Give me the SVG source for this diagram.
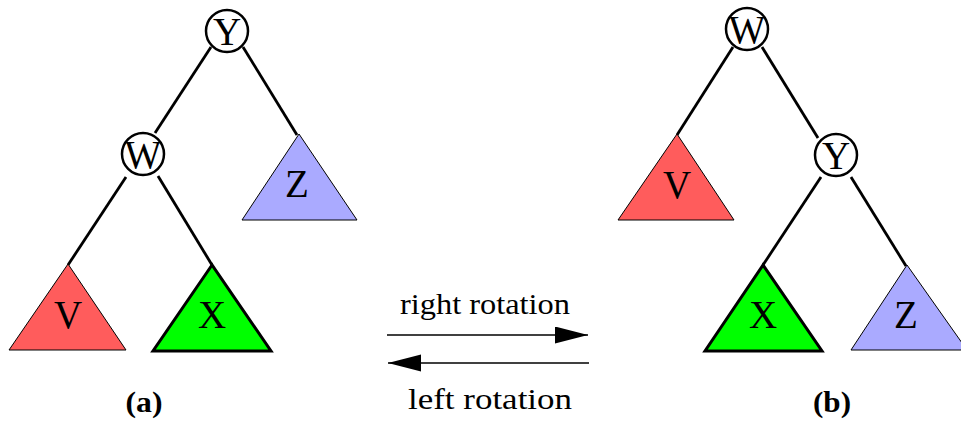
<svg xmlns="http://www.w3.org/2000/svg" width="961" height="425" viewBox="0 0 961 425">
<style>
  .edge { stroke: #000; stroke-width: 2.8; fill: none; }
  .node circle { fill: #fff; stroke: #000; stroke-width: 2.5; }
  text { font-family: "Times New Roman", "Liberation Serif", Tinos, Times, "Nimbus Roman", serif; fill: #000; text-anchor: middle; }
  .lbl { font-size: 39px; }
  .red { fill: #ff5c5c; stroke: #000; stroke-width: 1; }
  .green { fill: #00ff00; stroke: #000; stroke-width: 3; }
  .blue { fill: #aaaaff; stroke: #000; stroke-width: 1; }
  .cap { font-size: 29px; }
  .sub { font-size: 30px; font-weight: bold; }
  .arrow { stroke: #000; stroke-width: 1.6; fill: none; }
</style>
<defs>
  <marker id="head" markerUnits="userSpaceOnUse" markerWidth="34" markerHeight="18" refX="33" refY="8.5" orient="auto">
    <path d="M0,0 L33,8.5 L0,17 z" fill="#000"/>
  </marker>
</defs>
<g id="connectors">
  <line class="edge" x1="211" y1="47" x2="155" y2="133"/>
  <line class="edge" x1="243" y1="47" x2="297" y2="135"/>
  <line class="edge" x1="126" y1="177" x2="68" y2="265"/>
  <line class="edge" x1="158" y1="176" x2="212" y2="265"/>
  <line class="edge" x1="733" y1="47" x2="677" y2="135"/>
  <line class="edge" x1="762" y1="47" x2="818" y2="138"/>
  <line class="edge" x1="821" y1="177" x2="763" y2="265"/>
  <line class="edge" x1="851" y1="177" x2="906" y2="266"/>
  <line class="arrow" x1="387" y1="335" x2="588" y2="335" marker-end="url(#head)"/>
  <line class="arrow" x1="589" y1="363" x2="388" y2="363" marker-end="url(#head)"/>
</g>
<g id="a-Y" class="node"><circle cx="227" cy="31" r="21"/><text class="lbl" x="227" y="45">Y</text></g>
<g id="a-W" class="node"><circle cx="143" cy="154" r="21"/><text class="lbl" x="143" y="168">W</text></g>
<g id="a-V"><polygon class="red" points="68,264 9,350 126,350"/><text class="lbl" x="68" y="328">V</text></g>
<g id="a-X"><polygon class="green" points="212,265 153,351 271,351"/><text class="lbl" x="212" y="328">X</text></g>
<g id="a-Z"><polygon class="blue" points="299,134 242,220 357,220"/><text class="lbl" x="297" y="197">Z</text></g>
<g id="b-W" class="node"><circle cx="747" cy="29" r="21"/><text class="lbl" x="747" y="43">W</text></g>
<g id="b-Y" class="node"><circle cx="836" cy="155" r="21"/><text class="lbl" x="836" y="169">Y</text></g>
<g id="b-V"><polygon class="red" points="677,134 618,220 734,220"/><text class="lbl" x="677" y="198">V</text></g>
<g id="b-X"><polygon class="green" points="763,265 705,351 822,351"/><text class="lbl" x="763" y="328">X</text></g>
<g id="b-Z"><polygon class="blue" points="907,265 851,350 967,350"/><text class="lbl" x="906" y="328">Z</text></g>
<text class="cap" x="485" y="314" textLength="170" lengthAdjust="spacingAndGlyphs">right rotation</text>
<text class="cap" x="490" y="409" textLength="164" lengthAdjust="spacingAndGlyphs">left rotation</text>
<text class="sub" x="144" y="412" textLength="37" lengthAdjust="spacingAndGlyphs">(a)</text>
<text class="sub" x="832" y="412" textLength="38" lengthAdjust="spacingAndGlyphs">(b)</text>
</svg>
